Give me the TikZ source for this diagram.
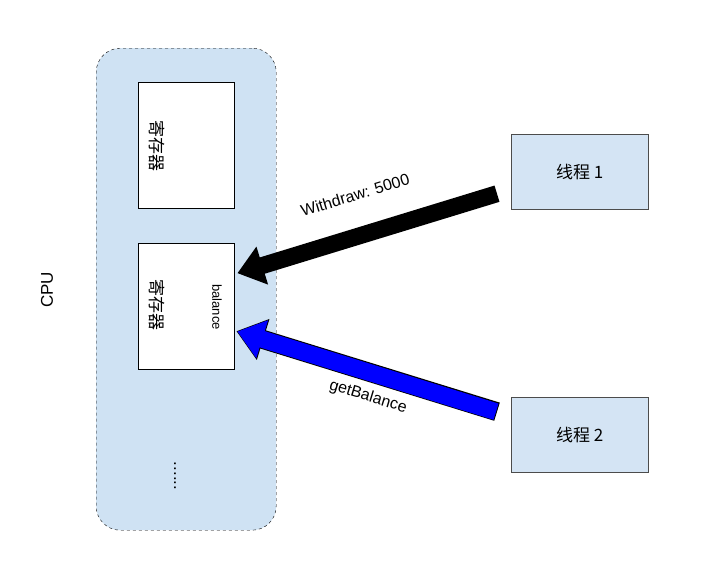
\documentclass[tikz,border=0pt]{standalone}
\usepackage{fontspec}
\setmainfont{Liberation Sans}
\newfontfamily\cjk{Noto Sans CJK SC}
\usetikzlibrary{arrows.meta}
\definecolor{cpublue}{HTML}{CFE2F3}
\definecolor{threadblue}{HTML}{D4E4F4}
\tikzset{
  reg/.style={draw, fill=white, minimum width=96pt, minimum height=126pt, anchor=north west},
  thread/.style={draw=black!70, fill=threadblue, minimum width=137pt, minimum height=75pt, anchor=north west, font=\cjk\fontsize{17pt}{20pt}\selectfont},
  bigarrow/.style={line width=17pt, -{Triangle[length=26pt,width=38pt]}}
}
\begin{document}
\begin{tikzpicture}[x=1pt,y=-1pt]
    \useasboundingbox (0,0) rectangle (716,565);
    % CPU block
    \node[draw, dashed, fill=cpublue, rounded corners=24pt, minimum width=180pt, minimum height=482pt, anchor=north west] (cpu) at (96,48) {};
    \node[rotate=90, font=\fontsize{17pt}{20pt}\selectfont] (cpulabel) at (47,290) {CPU};

    % registers
    \node[reg] (r1) at (138,82) {};
    \node[reg] (r2) at (138,243) {};
    \node[rotate=-90, font=\cjk\fontsize{17pt}{20pt}\selectfont] (r1text) at (157,146) {寄存器};
    \node[rotate=-90, font=\cjk\fontsize{17pt}{20pt}\selectfont] (r2text) at (157,305) {寄存器};
    \node[rotate=-90, font=\fontsize{13pt}{15pt}\selectfont] (bal) at (217,307) {balance};
    \node[rotate=-90, font=\fontsize{17pt}{20pt}\selectfont] (dots) at (175,476) {......};

    % threads
    \node[thread] (t1) at (511,134) {线程 1};
    \node[thread] (t2) at (511,397) {线程 2};

    % arrows
    \draw[bigarrow, black] ([xshift=-14pt,yshift=-22pt]t1.west) -- ([xshift=3pt,yshift=33pt]r2.east);
    \draw[line width=19pt, -{Triangle[length=28pt,width=41pt]}, black] ([xshift=-14pt,yshift=23pt]t2.west) -- ([xshift=2pt,yshift=-25pt]r2.east);
    \draw[bigarrow, blue, shorten >=1pt] ([xshift=-15pt,yshift=23pt]t2.west) -- ([xshift=2pt,yshift=-25pt]r2.east);

    % labels
    \node[rotate=17, font=\fontsize{16pt}{19pt}\selectfont] (wlabel) at (355,195) {Withdraw: 5000};
    \node[rotate=-17, font=\fontsize{16pt}{19pt}\selectfont] (glabel) at (368,397) {getBalance};
\end{tikzpicture}
\end{document}
